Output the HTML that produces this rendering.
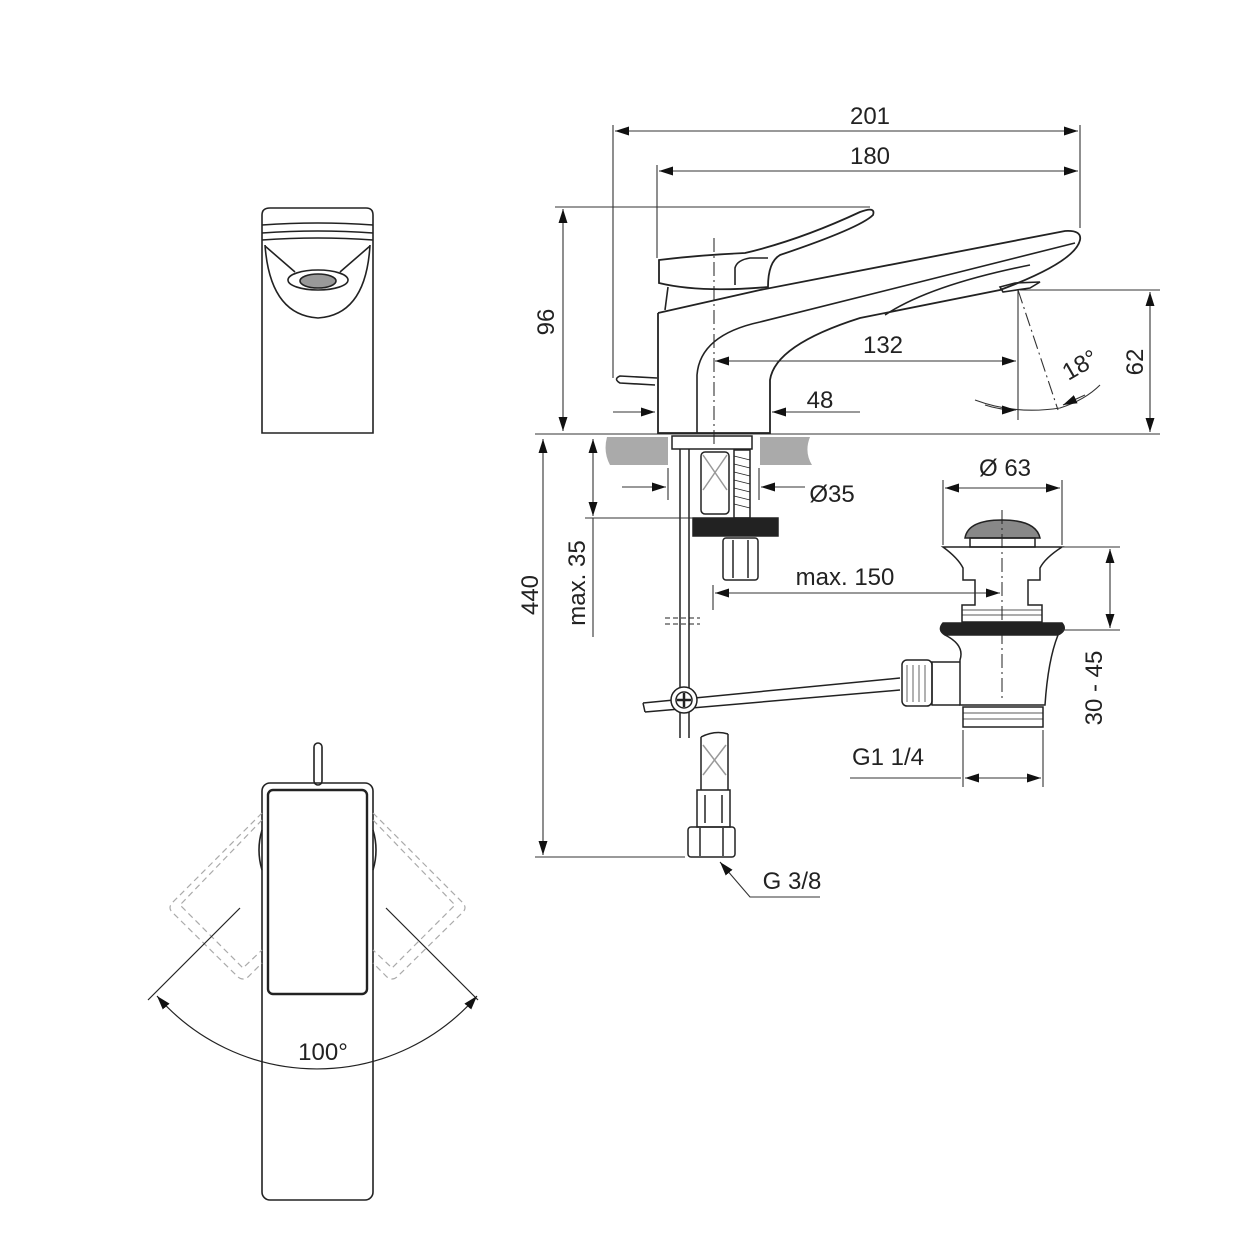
<!DOCTYPE html>
<html><head><meta charset="utf-8"><style>
html,body{margin:0;padding:0;background:#fff;}
svg{display:block;}
text{font-family:"Liberation Sans",sans-serif;fill:#222;}
</style></head><body>
<svg width="1256" height="1256" viewBox="0 0 1256 1256" xmlns="http://www.w3.org/2000/svg">
<defs>
<marker id="a" viewBox="0 0 10 10" refX="10" refY="5" markerWidth="14" markerHeight="14" markerUnits="userSpaceOnUse" orient="auto-start-reverse"><path d="M0,1.8 L10,5 L0,8.2 z" fill="#111"/></marker>
</defs>
<g fill="none" stroke="#222" stroke-width="1.6">
<!-- FRONT VIEW -->
<path d="M262,215 Q262,208 270,208 L366,208 Q373,208 373,215 L373,433 L262,433 Z"/>
<path d="M262,225 Q318,221 373,225"/>
<path d="M262,233 Q318,229 373,233"/>
<path d="M262,240 Q318,236 373,240"/>
<path d="M265,245 Q270,315 318,318 Q366,315 370,245"/>
<path d="M265,246 L295,272 M370,246 L340,272"/>
<ellipse cx="318" cy="280" rx="30" ry="10"/>
<ellipse cx="318" cy="281" rx="18" ry="7" fill="#999"/>

<!-- TOP VIEW -->
<rect x="314" y="743" width="8" height="42" rx="4"/>
<rect x="262" y="783" width="111" height="417" rx="8"/>
<rect x="268" y="790" width="99" height="204" rx="5" stroke-width="2.4"/>
<g stroke="#aaa" stroke-dasharray="6,4" stroke-width="1.2">
<path d="M262,813 L172,903 Q168,908 172,912 L238,977 Q243,981 248,977 L262,963"/>
<path d="M262,820 L180,905 L243,968 L262,950"/>
<path d="M373,813 L463,903 Q467,908 463,912 L397,977 Q392,981 387,977 L373,963"/>
<path d="M373,820 L455,905 L392,968 L373,950"/>
</g>
<path d="M262,830 Q256,850 262,870 M373,830 Q379,850 373,870"/>
<line x1="240" y1="908" x2="148" y2="1000" stroke-width="1.2"/>
<line x1="386" y1="908" x2="478" y2="1000" stroke-width="1.2"/>
<path d="M157,996 A212,212 0 0 0 477,996" stroke-width="1.2" marker-start="url(#a)" marker-end="url(#a)"/>

<!-- SIDE VIEW dimension lines -->
<g stroke-width="1.1" stroke="#333">
<line x1="613" y1="125" x2="613" y2="378"/>
<line x1="657" y1="165" x2="657" y2="258"/>
<line x1="1080" y1="125" x2="1080" y2="228"/>
<line x1="615" y1="131" x2="1078" y2="131" marker-start="url(#a)" marker-end="url(#a)"/>
<line x1="659" y1="171" x2="1078" y2="171" marker-start="url(#a)" marker-end="url(#a)"/>
<line x1="555" y1="207" x2="870" y2="207"/>
<line x1="563" y1="209" x2="563" y2="431" marker-start="url(#a)" marker-end="url(#a)"/>
<line x1="535" y1="434" x2="1160" y2="434"/>
<line x1="1020" y1="290" x2="1160" y2="290"/>
<line x1="1150" y1="292" x2="1150" y2="432" marker-start="url(#a)" marker-end="url(#a)"/>
<line x1="1018" y1="290" x2="1018" y2="420"/>
<line x1="715" y1="361" x2="1016" y2="361" marker-start="url(#a)" marker-end="url(#a)"/>
<line x1="613" y1="412" x2="655" y2="412" marker-end="url(#a)"/>
<line x1="860" y1="412" x2="772" y2="412" marker-end="url(#a)"/>
<line x1="1018" y1="290" x2="1058" y2="410" stroke-dasharray="14,4,2,4"/>
<path d="M975,400 Q1015,415 1060,408 Q1085,400 1100,385"/>
<path d="M985,405 Q1000,410 1016,410" marker-end="url(#a)"/>
<path d="M1085,395 L1063,405" marker-end="url(#a)"/>
<line x1="714" y1="238" x2="714" y2="445" stroke-dasharray="14,4,2,4"/>
</g>
<!-- Faucet -->
<path d="M659,260 Q700,255 745,253 Q800,240 860,212 Q876,206 873,215 Q860,228 780,255 Q768,262 768,287 Q700,293 659,283 Z" stroke-width="1.8"/>
<path d="M735,285 L735,268 Q737,260 750,258 L768,258"/>
<path d="M668,287 L665,310"/>
<path d="M658,313 L658,433 L770,433 L770,380 Q775,345 860,318 L1000,290 Q1075,262 1080,240 Q1082,230 1065,231 L760,290 L658,313" stroke-width="1.8"/>
<path d="M697,433 L697,375 Q700,335 760,322 L1075,243"/>
<path d="M885,315 Q930,285 1030,265"/>
<path d="M1000,287 L1003,292 L1030,288 L1040,282 L1015,283 Z"/>
<path d="M657,378 L620,376 Q613,379 620,383 L655,385"/>
</g>

<!-- countertop -->
<path d="M607,437 L668,437 L668,465 L610,465 Q603,452 607,437 Z" fill="#aaa"/>
<path d="M760,437 L810,437 Q804,452 812,465 L760,465 Z" fill="#aaa"/>

<g fill="none" stroke="#222" stroke-width="1.5">
<rect x="672" y="436" width="80" height="13"/>
<line x1="680" y1="449" x2="680" y2="738"/>
<line x1="689" y1="449" x2="689" y2="738"/>
<rect x="701" y="452" width="28" height="62" rx="4"/>
<path d="M703,455 L727,490 M727,455 L703,490" stroke="#999"/>
<rect x="734" y="450" width="16" height="68"/>
<path d="M734,456 L750,460 M734,464 L750,468 M734,472 L750,476 M734,480 L750,484 M734,488 L750,492 M734,496 L750,500 M734,504 L750,508" stroke-width="0.8"/>
<rect x="693" y="518" width="85" height="18" fill="#222"/>
<rect x="723" y="538" width="35" height="42" rx="3"/>
<line x1="733" y1="540" x2="733" y2="578"/><line x1="748" y1="540" x2="748" y2="578"/>
<line x1="665" y1="618" x2="700" y2="618" stroke-dasharray="5,3" stroke-width="1"/>
<line x1="665" y1="624" x2="700" y2="624" stroke-dasharray="5,3" stroke-width="1"/>
<!-- linkage -->
<path d="M643,703 L900,678 M645,712 L900,690 M643,703 L645,712"/>
<circle cx="684" cy="700" r="13" fill="#fff"/>
<circle cx="684" cy="700" r="8"/>
<path d="M684,693 L684,707 M677,700 L691,700" stroke-width="2.5"/>
<!-- hose -->
<path d="M701,737 L701,790 M728,734 L728,790 M701,737 Q715,730 728,734"/>
<path d="M703,745 L726,775 M726,745 L703,775" stroke="#999"/>
<rect x="697" y="790" width="33" height="37"/>
<line x1="705" y1="795" x2="705" y2="823"/><line x1="722" y1="795" x2="722" y2="823"/>
<rect x="688" y="827" width="47" height="30" rx="3"/>
<line x1="700" y1="828" x2="700" y2="856"/><line x1="723" y1="828" x2="723" y2="856"/>
<!-- waste -->
<path d="M965,538 Q968,520 1002,520 Q1036,520 1040,538 Z" fill="#888"/>
<rect x="970" y="538" width="65" height="9"/>
<path d="M943,547 L1062,547 Q1045,558 1040,568 L1040,580 L1028,580 L1028,605 L1042,605 L1042,622 L962,622 L962,605 L975,605 L975,580 L963,580 L963,568 Q958,558 943,547 Z"/>
<path d="M962,610 L1042,610 M962,615 L1042,615" stroke-width="0.8"/>
<path d="M943,623 L1062,623 Q1068,630 1058,635 L945,635 Q937,630 943,623 Z" fill="#222"/>
<path d="M945,635 Q965,645 960,660 L960,705 L1045,705 Q1048,660 1058,635"/>
<path d="M960,662 L932,662 L932,705 L960,705"/>
<rect x="902" y="660" width="30" height="46" rx="5"/>
<path d="M907,665 L907,702 M913,665 L913,702 M919,665 L919,702 M925,665 L925,702" stroke-width="0.7"/>
<rect x="963" y="707" width="80" height="20"/>
<path d="M963,713 L1043,713 M963,719 L1043,719" stroke-width="0.7"/>
<line x1="1002" y1="510" x2="1002" y2="700" stroke-dasharray="14,4,2,4" stroke-width="1"/>
</g>

<g fill="none" stroke="#333" stroke-width="1.1">
<line x1="543" y1="439" x2="543" y2="855" marker-start="url(#a)" marker-end="url(#a)"/>
<line x1="535" y1="857" x2="685" y2="857"/>
<line x1="593" y1="439" x2="593" y2="516" marker-start="url(#a)" marker-end="url(#a)"/>
<line x1="593" y1="518" x2="593" y2="637"/>
<line x1="585" y1="518" x2="693" y2="518"/>
<line x1="668" y1="468" x2="668" y2="500"/>
<line x1="759" y1="468" x2="759" y2="500"/>
<line x1="622" y1="487" x2="666" y2="487" marker-end="url(#a)"/>
<line x1="805" y1="487" x2="761" y2="487" marker-end="url(#a)"/>
<line x1="943" y1="480" x2="943" y2="545"/>
<line x1="1062" y1="480" x2="1062" y2="545"/>
<line x1="945" y1="488" x2="1060" y2="488" marker-start="url(#a)" marker-end="url(#a)"/>
<line x1="1062" y1="547" x2="1120" y2="547"/>
<line x1="1062" y1="630" x2="1120" y2="630"/>
<line x1="1110" y1="549" x2="1110" y2="628" marker-start="url(#a)" marker-end="url(#a)"/>
<line x1="713" y1="585" x2="713" y2="610"/>
<line x1="715" y1="593" x2="1000" y2="593" marker-start="url(#a)" marker-end="url(#a)"/>
<line x1="963" y1="730" x2="963" y2="787"/>
<line x1="1043" y1="730" x2="1043" y2="787"/>
<line x1="850" y1="778" x2="961" y2="778"/>
<line x1="965" y1="778" x2="1041" y2="778" marker-start="url(#a)" marker-end="url(#a)"/>
<path d="M820,897 L750,897 L720,862" marker-end="url(#a)"/>
</g>

<g font-size="24">
<text x="870" y="124" text-anchor="middle">201</text>
<text x="870" y="164" text-anchor="middle">180</text>
<text x="883" y="353" text-anchor="middle">132</text>
<text x="820" y="408" text-anchor="middle">48</text>
<text x="1080" y="373" text-anchor="middle" transform="rotate(-30 1080 365)">18°</text>
<text x="554" y="322" text-anchor="middle" transform="rotate(-90 554 322)">96</text>
<text x="1143" y="362" text-anchor="middle" transform="rotate(-90 1143 362)">62</text>
<text x="538" y="595" text-anchor="middle" transform="rotate(-90 538 595)">440</text>
<text x="585" y="583" text-anchor="middle" transform="rotate(-90 585 583)">max. 35</text>
<text x="832" y="502" text-anchor="middle">Ø35</text>
<text x="1005" y="476" text-anchor="middle">Ø 63</text>
<text x="845" y="585" text-anchor="middle">max. 150</text>
<text x="1102" y="688" text-anchor="middle" transform="rotate(-90 1102 688)">30 - 45</text>
<text x="888" y="765" text-anchor="middle">G1 1/4</text>
<text x="792" y="889" text-anchor="middle">G 3/8</text>
<text x="323" y="1060" text-anchor="middle">100°</text>
</g>
</svg>
</body></html>
